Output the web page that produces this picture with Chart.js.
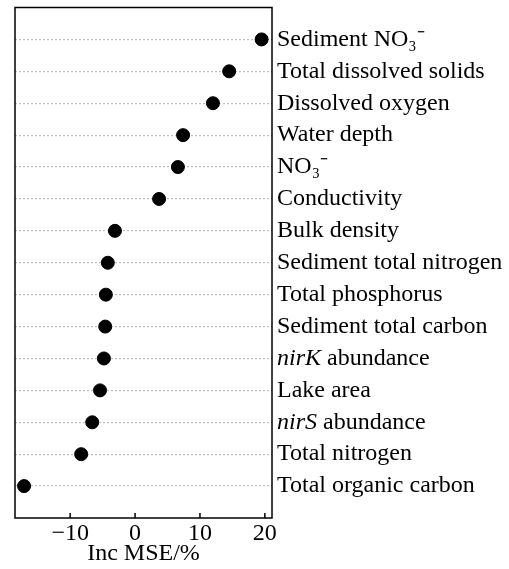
<!DOCTYPE html>
<html>
<head>
<meta charset="utf-8">
<script src="https://cdn.jsdelivr.net/npm/chart.js@4"></script>
<style>
  html, body { margin: 0; padding: 0; background: #fff; }
  #wrap { width: 509px; height: 569px; }
</style>
</head>
<body>
<div id="wrap"><canvas id="DotChart"></canvas></div>
<script>
// variables, top to bottom
const labels = [
    'Sediment NO\u2083\u207B',
    'Total dissolved solids',
    'Dissolved oxygen',
    'Water depth',
    'NO\u2083\u207B',
    'Conductivity',
    'Bulk density',
    'Sediment total nitrogen',
    'Total phosphorus',
    'Sediment total carbon',
    'nirK abundance',
    'Lake area',
    'nirS abundance',
    'Total nitrogen',
    'Total organic carbon'
];
const incMSE = [19.5, 14.5, 12.0, 7.4, 6.6, 3.7, -3.1, -4.2, -4.5, -4.6, -4.8, -5.4, -6.6, -8.3, -17.1];
const xTicks = [-10, 0, 10, 20];
// gene names are set in italics
const italicWords = ['nirK', 'nirS'];

const serif = "'Liberation Serif', 'Times New Roman', serif";
const fontSize = 24;

const isRich = l => italicWords.some(w => l.startsWith(w + ' '));

// frame, inward x ticks, and the labels with italic gene names
const frame = {
    id: 'frame',
    afterDraw(chart) {
        const ctx = chart.ctx, a = chart.chartArea, sx = chart.scales.x, sy = chart.scales.y;
        ctx.save();
        ctx.strokeStyle = '#000';
        ctx.lineWidth = 1.5;
        ctx.strokeRect(a.left, a.top, a.right - a.left, a.bottom - a.top);
        ctx.beginPath();
        xTicks.forEach(v => {
            const px = sx.getPixelForValue(v);
            ctx.moveTo(px, a.bottom);
            ctx.lineTo(px, a.bottom - 5);
        });
        ctx.stroke();

        ctx.fillStyle = '#000';
        ctx.textBaseline = 'middle';
        ctx.textAlign = 'left';
        labels.forEach((l, i) => {
            if (!isRich(l)) return;
            const word = italicWords.find(w => l.startsWith(w + ' '));
            const rest = l.slice(word.length);
            const y = sy.getPixelForValue(i);
            let x = sy.left + 5;
            ctx.font = 'italic ' + fontSize + 'px ' + serif;
            ctx.fillText(word, x, y);
            x += ctx.measureText(word).width;
            ctx.font = fontSize + 'px ' + serif;
            ctx.fillText(rest, x, y);
        });
        ctx.restore();
    }
};

const config = {
    type: 'scatter',
    data: {
        datasets: [{
            label: 'Inc MSE/%',
            data: incMSE.map((v, i) => ({ x: v, y: i })),
            backgroundColor: '#000',
            borderColor: '#000',
            pointRadius: 6.5,
            pointHoverRadius: 6.5
        }]
    },
    options: {
        responsive: true,
        maintainAspectRatio: false,
        animation: false,
        layout: { padding: { left: 15, top: 7, right: 0, bottom: 0 } },
        plugins: { legend: { display: false }, tooltip: { enabled: false } },
        scales: {
            x: {
                type: 'linear',
                min: -18.5,
                max: 21.1,
                afterBuildTicks: s => { s.ticks = xTicks.map(v => ({ value: v })); },
                afterFit: s => { s.height = 51; s.paddingLeft = 0; s.paddingRight = 0; },
                grid: { display: false, drawTicks: false },
                border: { display: false },
                ticks: {
                    color: '#000',
                    padding: 1,
                    font: { family: serif, size: fontSize },
                    maxRotation: 0,
                    callback: v => String(v).replace('-', '\u2212')
                },
                title: {
                    display: true,
                    text: 'Inc MSE/%',
                    color: '#000',
                    padding: { top: 0, bottom: 1 },
                    font: { family: serif, size: fontSize }
                }
            },
            y: {
                type: 'linear',
                position: 'right',
                reverse: true,
                min: -1,
                max: 15,
                afterBuildTicks: s => { s.ticks = labels.map((l, i) => ({ value: i })); },
                afterFit: s => { s.width = 237; s.paddingTop = 0; s.paddingBottom = 0; },
                grid: { color: '#bdbdbd', lineWidth: 1.2, drawTicks: false },
                border: { display: false, dash: [2, 2] },
                ticks: {
                    color: '#000',
                    padding: 5,
                    font: { family: serif, size: fontSize },
                    callback: v => isRich(labels[v]) ? '' : labels[v]
                }
            }
        }
    },
    plugins: [frame]
};

new Chart(document.getElementById('DotChart'), config);
</script>
</body>
</html>
